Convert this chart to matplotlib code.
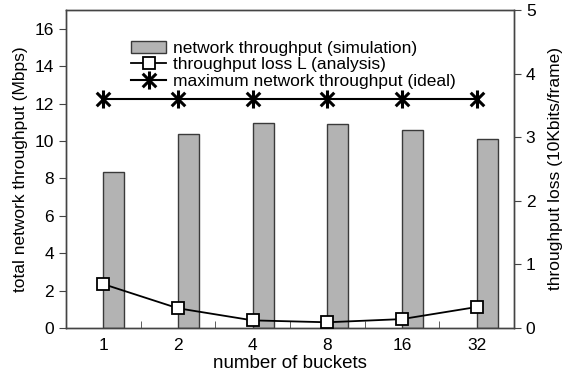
import matplotlib.pyplot as plt
import numpy as np
from matplotlib.ticker import FixedLocator
from matplotlib.path import Path

plt.rcParams['font.family'] = ['Liberation Sans', 'DejaVu Sans']

buckets = ['1', '2', '4', '8', '16', '32']
throughput_sim = [8.33, 10.35, 10.95, 10.92, 10.6, 10.08]
throughput_ideal = [12.25, 12.25, 12.25, 12.25, 12.25, 12.25]
loss_analysis = [0.69, 0.31, 0.12, 0.09, 0.14, 0.33]

x = np.arange(len(buckets))

# asterisk: vertical stroke plus an X
star = Path([(0, -1), (0, 1), (-0.75, -0.75), (0.75, 0.75), (-0.75, 0.75), (0.75, -0.75)],
            [Path.MOVETO, Path.LINETO, Path.MOVETO, Path.LINETO, Path.MOVETO, Path.LINETO])

fig = plt.figure(figsize=(5.64, 3.77), dpi=100)
ax = fig.add_axes([66/564, 1-328/377, 448/564, 318/377])
ax2 = ax.twinx()

bars = ax.bar(x, throughput_sim, width=0.28, align='edge', color='#b3b3b3',
              edgecolor='#3a3a3a', linewidth=1.0, zorder=2)
ideal, = ax.plot(x, throughput_ideal, color='black', lw=1.5, marker=star,
                 ms=13, mew=2.2, zorder=3)
loss, = ax2.plot(x, loss_analysis, color='black', lw=1.3, marker='s', ms=9,
                 mfc='white', mec='black', mew=1.3, zorder=4)

ax.set_xlim(-0.5, 5.5)
ax.set_ylim(0, 17)
ax2.set_ylim(0, 5)
ax.set_yticks(np.arange(0, 17, 2))
ax2.set_yticks(np.arange(0, 6, 1))
ax.set_xticks(x)
ax.set_xticklabels(buckets)
ax.xaxis.set_minor_locator(FixedLocator(x[:-1] + 0.5))
ax.tick_params(axis='x', which='major', length=0, labelsize=12.5, pad=7)
ax.tick_params(axis='x', which='minor', direction='in', length=5, color='#444444')
ax.tick_params(axis='y', labelsize=12.5, length=5, color='#444444')
ax2.tick_params(axis='y', labelsize=12.5, length=5, color='#444444')

ax.set_xlabel('number of buckets', fontsize=13.5, labelpad=2)
ax.set_ylabel('total network throughput (Mbps)', fontsize=12.5, labelpad=5)
ax2.set_ylabel('throughput loss (10Kbits/frame)', fontsize=12.5, labelpad=9)

for a in (ax, ax2):
    for s in a.spines.values():
        s.set_color('#444444')
        s.set_linewidth(1.0)

ax2.set_zorder(ax.get_zorder() + 1)
ax2.patch.set_visible(False)

ax2.legend([bars, loss, ideal],
           ['network throughput (simulation)', 'throughput loss L (analysis)',
            'maximum network throughput (ideal)'],
           loc='upper left', bbox_to_anchor=(0.13, 0.925), frameon=False,
           fontsize=12.5, handlelength=2.0, handletextpad=0.4, labelspacing=0.08,
           borderaxespad=0)

fig.savefig('out.png', dpi=100)
